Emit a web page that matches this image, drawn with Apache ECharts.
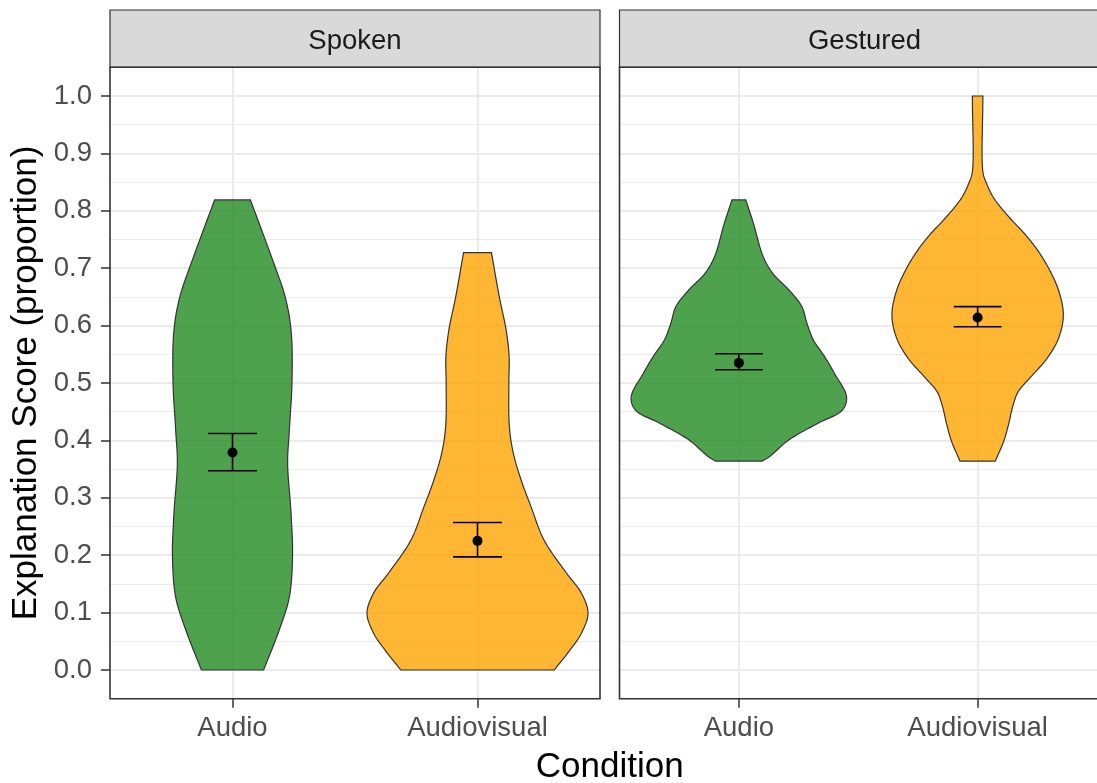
<!DOCTYPE html>
<html><head><meta charset="utf-8">
<script src="https://cdn.jsdelivr.net/npm/echarts@6/dist/echarts.min.js"></script>
<style>html,body{margin:0;padding:0;background:#fff}#c{width:1097px;height:783px}</style>
</head><body><div id="c"></div>
<script>
// ---------- data ----------
const panels = ['Spoken', 'Gestured'];
const conditions = ['Audio', 'Audiovisual'];
const yTitle = 'Explanation Score (proportion)';
const xTitle = 'Condition';

// violin outlines: score values and half-widths (fraction of one category band)
const spokenAudioY = [0.000, 0.070, 0.127, 0.197, 0.273, 0.360, 0.418, 0.505, 0.592, 0.650, 0.714, 0.819];
const spokenAudioW = [0.127, 0.191, 0.232, 0.245, 0.239, 0.225, 0.232, 0.243, 0.239, 0.215, 0.164, 0.073];

const spokenAVY = [0.000, 0.035, 0.064, 0.099, 0.134, 0.169, 0.226, 0.285, 0.331, 0.378, 0.424, 0.500, 0.546, 0.592, 0.650, 0.727];
const spokenAVW = [0.313, 0.378, 0.424, 0.451, 0.424, 0.363, 0.272, 0.218, 0.178, 0.146, 0.130, 0.128, 0.129, 0.117, 0.089, 0.057];

const gestAudioY = [0.364, 0.372, 0.401, 0.430, 0.453, 0.476, 0.517, 0.546, 0.575, 0.604, 0.633, 0.662, 0.691, 0.720, 0.778, 0.819];
const gestAudioW = [0.098, 0.129, 0.210, 0.332, 0.434, 0.451, 0.400, 0.359, 0.312, 0.285, 0.264, 0.210, 0.142, 0.102, 0.061, 0.029];

const gestAVY = [0.364, 0.398, 0.427, 0.462, 0.485, 0.508, 0.543, 0.578, 0.618, 0.659, 0.694, 0.729, 0.758, 0.787, 0.822, 0.851, 0.868, 1.000];
const gestAVW = [0.074, 0.109, 0.129, 0.149, 0.170, 0.217, 0.291, 0.339, 0.359, 0.341, 0.305, 0.255, 0.201, 0.136, 0.068, 0.034, 0.022, 0.022];

// means and error bars
const spokenMean  = [0.379, 0.225];
const spokenLower = [0.347, 0.197];
const spokenUpper = [0.412, 0.257];
const gestMean  = [0.535, 0.614];
const gestLower = [0.523, 0.598];
const gestUpper = [0.551, 0.633];

// ---------- build ----------
const FONT = 'Liberation Sans, Arial, sans-serif';
const fills = ['rgba(34,139,34,0.8)', 'rgba(255,165,0,0.8)'];
const profiles = [
  [{y: spokenAudioY, w: spokenAudioW}, {y: spokenAVY, w: spokenAVW}],
  [{y: gestAudioY, w: gestAudioW}, {y: gestAVY, w: gestAVW}]
];
const meansP = [spokenMean, gestMean], lowP = [spokenLower, gestLower], upP = [spokenUpper, gestUpper];

// centripetal Catmull-Rom smoothing of an outline (render-time only)
function catmull(pts, seg) {
  const out = [];
  const n = pts.length;
  const dist = (a, b) => Math.max(1e-4, Math.pow(Math.hypot(b[0] - a[0], b[1] - a[1]), 0.5));
  for (let i = 0; i < n - 1; i++) {
    const p1 = pts[i], p2 = pts[i + 1];
    const p0 = i > 0 ? pts[i - 1] : [2 * p1[0] - p2[0], 2 * p1[1] - p2[1]];
    const p3 = i + 2 < n ? pts[i + 2] : [2 * p2[0] - p1[0], 2 * p2[1] - p1[1]];
    const t0 = 0, t1 = t0 + dist(p0, p1), t2 = t1 + dist(p1, p2), t3 = t2 + dist(p2, p3);
    for (let s = 0; s < seg; s++) {
      const t = t1 + (t2 - t1) * s / seg;
      const pt = [0, 1].map(k => {
        const A1 = (t1 - t) / (t1 - t0) * p0[k] + (t - t0) / (t1 - t0) * p1[k];
        const A2 = (t2 - t) / (t2 - t1) * p1[k] + (t - t1) / (t2 - t1) * p2[k];
        const A3 = (t3 - t) / (t3 - t2) * p2[k] + (t - t2) / (t3 - t2) * p3[k];
        const B1 = (t2 - t) / (t2 - t0) * A1 + (t - t0) / (t2 - t0) * A2;
        const B2 = (t3 - t) / (t3 - t1) * A2 + (t - t1) / (t3 - t1) * A3;
        return (t2 - t) / (t2 - t1) * B1 + (t - t1) / (t2 - t1) * B2;
      });
      out.push(pt);
    }
  }
  out.push(pts[n - 1]);
  return out;
}

const LEFTS = [110, 619.5], PW = 490;
const TOP_A = 67.3, H_A = 631.4, TOP_B = 96, H_B = 574;

const grids = [], xAxes = [], yAxes = [], series = [], graphics = [];
panels.forEach((p, k) => {
  grids.push({left: LEFTS[k], top: TOP_A, width: PW, height: H_A});
  xAxes.push({
    type: 'category', gridIndex: k, data: conditions, boundaryGap: true, position: 'bottom',
    axisLine: {show: false, onZero: false},
    axisTick: {show: true, alignWithLabel: true, inside: false, length: 9, lineStyle: {color: '#333333', width: 1.5}},
    axisLabel: {fontSize: 27.5, color: '#4D4D4D', margin: 16, fontFamily: FONT},
    splitLine: {show: true, alignWithLabel: true, lineStyle: {color: '#EBEBEB', width: 2}}
  });
  yAxes.push({
    type: 'value', gridIndex: k, min: -0.05, max: 1.05, interval: 0.05,
    axisLine: {show: false}, axisTick: {show: false}, axisLabel: {show: false},
    splitLine: {show: true, showMinLine: false, showMaxLine: false, lineStyle: {color: '#EBEBEB', width: 1}}
  });
});
panels.forEach((p, k) => {
  grids.push({left: LEFTS[k], top: TOP_B, width: PW, height: H_B});
  xAxes.push({type: 'category', gridIndex: 2 + k, data: conditions, show: false,
    axisLine: {show: false, onZero: false}, axisTick: {show: false}, axisLabel: {show: false}, splitLine: {show: false}});
  yAxes.push({
    type: 'value', gridIndex: 2 + k, min: 0, max: 1, interval: 0.1,
    axisLine: {show: false},
    axisTick: {show: k === 0, length: 9, lineStyle: {color: '#333333', width: 1.5}},
    axisLabel: {show: k === 0, fontSize: 27.5, color: '#4D4D4D', margin: 18, fontFamily: FONT,
      formatter: v => v.toFixed(1)},
    splitLine: {show: true, lineStyle: {color: '#EBEBEB', width: 2}},
    name: k === 0 ? yTitle : '', nameLocation: 'middle', nameGap: 66,
    nameTextStyle: {fontSize: 35, color: '#000', fontFamily: FONT}
  });
});

panels.forEach((p, k) => {
  series.push({
    type: 'custom', xAxisIndex: k, yAxisIndex: k, z: 3,
    data: conditions.map((c, i) => [i]),
    renderItem: (params, api) => {
      const i = api.value(0);
      const prof = profiles[k][params.dataIndex];
      const band = api.size([1, 0])[0];
      const cx = api.coord([i, 0])[0];
      const right = prof.y.map((v, j) => { const c = api.coord([i, v]); return [cx + prof.w[j] * band, c[1]]; });
      const rs = catmull(right, 12);
      const ls = rs.map(pt => [2 * cx - pt[0], pt[1]]).reverse();
      return {type: 'polygon', shape: {points: rs.concat(ls)},
        style: {fill: fills[params.dataIndex], stroke: '#333333', lineWidth: 1.2}};
    }
  });
  series.push({
    type: 'custom', xAxisIndex: k, yAxisIndex: k, z: 4,
    data: conditions.map((c, i) => [i, lowP[k][i], upP[k][i]]),
    renderItem: (params, api) => {
      const i = api.value(0);
      const band = api.size([1, 0])[0];
      const lo = api.coord([i, api.value(1)]), hi = api.coord([i, api.value(2)]);
      const hw = 0.1 * band;
      const st = {stroke: '#000', lineWidth: 1.6};
      return {type: 'group', children: [
        {type: 'line', shape: {x1: lo[0], y1: lo[1], x2: hi[0], y2: hi[1]}, style: st},
        {type: 'line', shape: {x1: lo[0] - hw, y1: lo[1], x2: lo[0] + hw, y2: lo[1]}, style: st},
        {type: 'line', shape: {x1: hi[0] - hw, y1: hi[1], x2: hi[0] + hw, y2: hi[1]}, style: st}
      ]};
    }
  });
  series.push({
    type: 'scatter', xAxisIndex: k, yAxisIndex: k, z: 5,
    symbol: 'circle', symbolSize: 10, itemStyle: {color: '#000', opacity: 1},
    data: conditions.map((c, i) => [i, meansP[k][i]])
  });
  // strip + panel border
  graphics.push({type: 'rect', z: 50, shape: {x: LEFTS[k], y: 10, width: PW, height: 57.3},
    style: {fill: '#D9D9D9', stroke: '#333333', lineWidth: 1.2}});
  graphics.push({type: 'text', z: 51, x: LEFTS[k] + PW / 2, y: 41,
    style: {text: p, fontSize: 27.5, fontFamily: FONT, fill: '#1A1A1A', textAlign: 'center', textVerticalAlign: 'middle'}});
  graphics.push({type: 'rect', z: 60, shape: {x: LEFTS[k], y: TOP_A, width: PW, height: H_A},
    style: {fill: 'none', stroke: '#333333', lineWidth: 1.6}});
});
graphics.push({type: 'text', z: 51, x: (LEFTS[0] + LEFTS[1] + PW) / 2, y: 767,
  style: {text: xTitle, fontSize: 35, fontFamily: FONT, fill: '#000', textAlign: 'center', textVerticalAlign: 'middle'}});

const chart = echarts.init(document.getElementById('c'), null, {renderer: 'canvas'});
chart.setOption({
  animation: false,
  backgroundColor: '#ffffff',
  textStyle: {fontFamily: FONT},
  grid: grids, xAxis: xAxes, yAxis: yAxes, series: series, graphic: graphics
});
</script></body></html>
